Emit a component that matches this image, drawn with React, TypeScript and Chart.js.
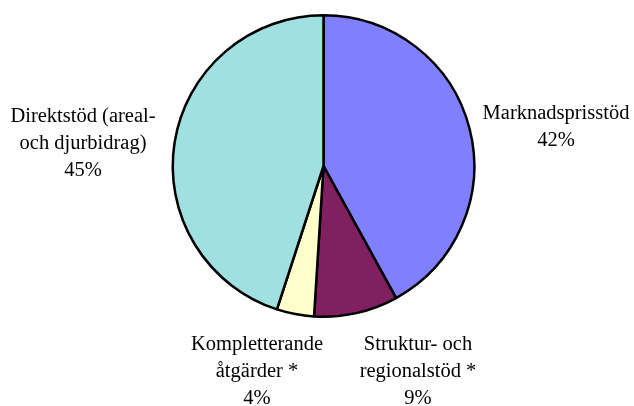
import React, { useEffect, useRef } from "react";
import { Chart, registerables } from "chart.js";

Chart.register(...registerables);

const categories = ["Marknadsprisstöd", "Struktur- och regionalstöd *", "Kompletterande åtgärder *", "Direktstöd (areal- och djurbidrag)"];
const labelLines = [
  ["Marknadsprisstöd", "42%"],
  ["Struktur- och", "regionalstöd *", "9%"],
  ["Kompletterande", "åtgärder *", "4%"],
  ["Direktstöd (areal-", "och djurbidrag)", "45%"],
];
const values = [42, 9, 4, 45];
const colors = ["#8080FF", "#802060", "#FFFFCC", "#A0E0E0"];

// label anchor offsets from the pie centre (x centre, first baseline)
const labelOffsets = [
  [232.5, -47],
  [94.5, 184],
  [-66.5, 184],
  [-240.5, -44],
];

const labelPlugin = {
  id: "outerLabels",
  afterDraw(chart: any) {
    const meta = chart.getDatasetMeta(0);
    const arc = meta.data[0];
    if (!arc) return;
    const cx = arc.x;
    const cy = arc.y;
    const ctx = chart.ctx;
    ctx.save();
    ctx.fillStyle = "#000";
    ctx.font = '20.5px "Liberation Serif", "Times New Roman", serif';
    ctx.textAlign = "center";
    ctx.textBaseline = "alphabetic";
    labelLines.forEach((lines, i) => {
      const [dx, dy] = labelOffsets[i];
      lines.forEach((t, j) => {
        ctx.fillText(t, cx + dx, cy + dy + j * 27);
      });
    });
    ctx.restore();
  },
};

export default function App() {
  const ref = useRef<HTMLCanvasElement>(null);
  useEffect(() => {
    if (!ref.current) return;
    const chart = new Chart(ref.current, {
      type: "pie",
      data: {
        labels: categories,
        datasets: [
          {
            data: values,
            backgroundColor: colors,
            borderColor: "#000",
            borderWidth: 2.5,
          },
        ],
      },
      options: {
        animation: false,
        responsive: false,
        maintainAspectRatio: false,
        layout: { padding: { top: 13, bottom: 87, left: 171.5, right: 158.5 } },
        plugins: {
          legend: { display: false },
          tooltip: { enabled: false },
        },
      },
      plugins: [labelPlugin],
    });
    return () => chart.destroy();
  }, []);
  return (
    <div style={{ position: "fixed", left: 0, top: 0, width: 634, height: 406, background: "#fff" }}>
      <canvas ref={ref} width={634} height={406} style={{ width: 634, height: 406 }} />
    </div>
  );
}
